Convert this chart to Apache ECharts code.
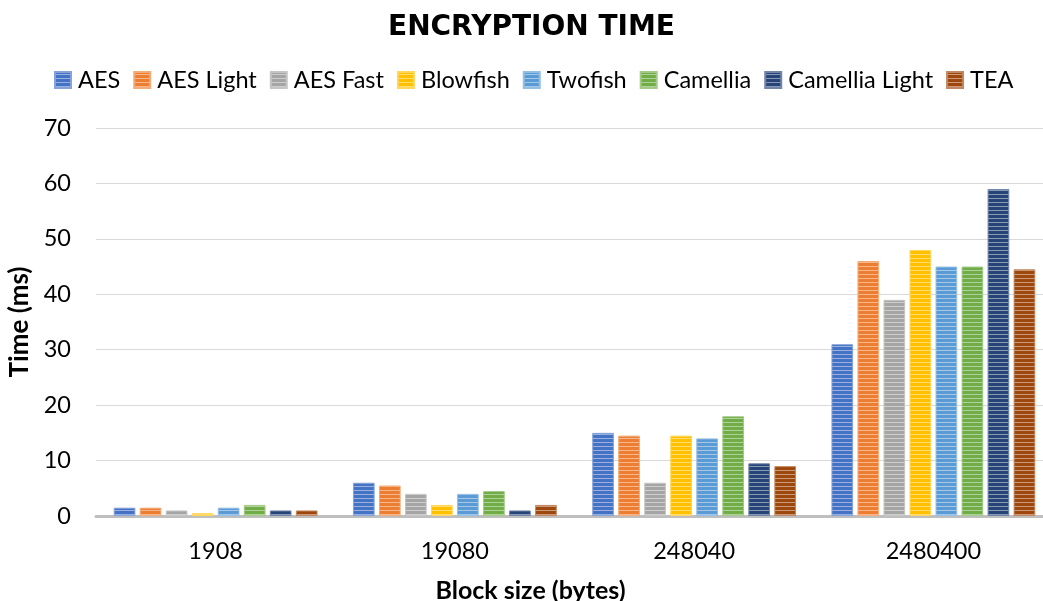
<!DOCTYPE html>
<html>
<head>
<meta charset="utf-8">
<style>
  html, body { margin: 0; padding: 0; background: #fff; }
  #chart { width: 1043px; height: 601px; }
</style>
<script src="https://cdn.jsdelivr.net/npm/echarts@6/dist/echarts.min.js"></script>
</head>
<body>
<div id="chart"></div>
<script>
// Block sizes (bytes) on the category axis
const blockSizes = ['1908', '19080', '248040', '2480400'];

// Encryption time (ms) per algorithm, one value per block size
const aes           = [1.5, 6, 15, 31];
const aesLight      = [1.5, 5.5, 14.5, 46];
const aesFast       = [1, 4, 6, 39];
const blowfish      = [0.5, 2, 14.5, 48];
const twofish       = [1.5, 4, 14, 45];
const camellia      = [2, 4.5, 18, 45];
const camelliaLight = [1, 1, 9.5, 59];
const tea           = [1, 2, 9, 44.5];

const algorithms = [
  { name: 'AES', data: aes, color: '#4472C4' },
  { name: 'AES Light', data: aesLight, color: '#ED7D31' },
  { name: 'AES Fast', data: aesFast, color: '#A5A5A5' },
  { name: 'Blowfish', data: blowfish, color: '#FFC000' },
  { name: 'Twofish', data: twofish, color: '#5B9BD5' },
  { name: 'Camellia', data: camellia, color: '#70AD47' },
  { name: 'Camellia Light', data: camelliaLight, color: '#264478' },
  { name: 'TEA', data: tea, color: '#9E480E' }
];

const FONT = 'Lato, "Open Sans", sans-serif';

function mix(hex, t) {
  const n = parseInt(hex.slice(1), 16);
  const r = (n >> 16) & 255, g = (n >> 8) & 255, b = n & 255;
  const f = c => Math.round(c + (255 - c) * t);
  return 'rgb(' + f(r) + ',' + f(g) + ',' + f(b) + ')';
}

// Horizontal-stripe fill: solid body with a pale line every few pixels
function stripes(hex) {
  const c = document.createElement('canvas');
  c.width = 24; c.height = 4;
  const ctx = c.getContext('2d');
  ctx.fillStyle = hex;
  ctx.fillRect(0, 0, 24, 4);
  ctx.fillStyle = mix(hex, 0.45);
  ctx.fillRect(0, 2, 24, 1);
  return { image: c, repeat: 'repeat' };
}

const chart = echarts.init(document.getElementById('chart'));

chart.setOption({
  animation: false,
  backgroundColor: '#ffffff',
  title: {
    text: 'ENCRYPTION TIME',
    left: 383,
    top: 9,
    textStyle: { fontFamily: '"DejaVu Sans", sans-serif', fontSize: 28, fontWeight: 'bold', color: '#000' }
  },
  legend: {
    top: 63,
    left: 49,
    itemWidth: 16,
    itemHeight: 16,
    itemGap: 13,
    icon: 'rect',
    textStyle: { fontFamily: FONT, fontSize: 23.5, color: '#000', padding: [0, 0, 0, 2] },
    data: algorithms.map(a => a.name)
  },
  // the plot runs a little past the right edge of the page
  grid: { left: 96, right: -10, top: 128, bottom: 85, outerBoundsMode: 'none' },
  xAxis: {
    type: 'category',
    data: blockSizes,
    name: 'Block size (bytes)',
    nameLocation: 'middle',
    nameGap: 62,
    // right padding pulls the title back toward the page centre
    nameTextStyle: { fontFamily: FONT, fontSize: 25, fontWeight: 'bold', color: '#000', padding: [0, 88, 0, 0] },
    axisLine: { lineStyle: { color: '#bfbfbf', width: 3 } },
    axisTick: { show: false },
    axisLabel: { fontFamily: FONT, fontSize: 23.5, color: '#000', margin: 23 }
  },
  yAxis: {
    type: 'value',
    min: 0,
    max: 70,
    interval: 10,
    name: 'Time (ms)',
    nameLocation: 'middle',
    nameGap: 58,
    nameTextStyle: { fontFamily: FONT, fontSize: 26, fontWeight: 'bold', color: '#000' },
    axisLine: { show: false },
    axisTick: { show: false },
    axisLabel: { fontFamily: FONT, fontSize: 23.5, color: '#000', margin: 25 },
    splitLine: { lineStyle: { color: '#d9d9d9', width: 1 } }
  },
  series: algorithms.map(a => ({
    name: a.name,
    type: 'bar',
    data: a.data,
    barGap: '20%',
    barCategoryGap: '14.8%',
    itemStyle: {
      color: stripes(a.color),
      borderColor: mix(a.color, 0.35),
      borderWidth: 1
    }
  }))
});
</script>
</body>
</html>
